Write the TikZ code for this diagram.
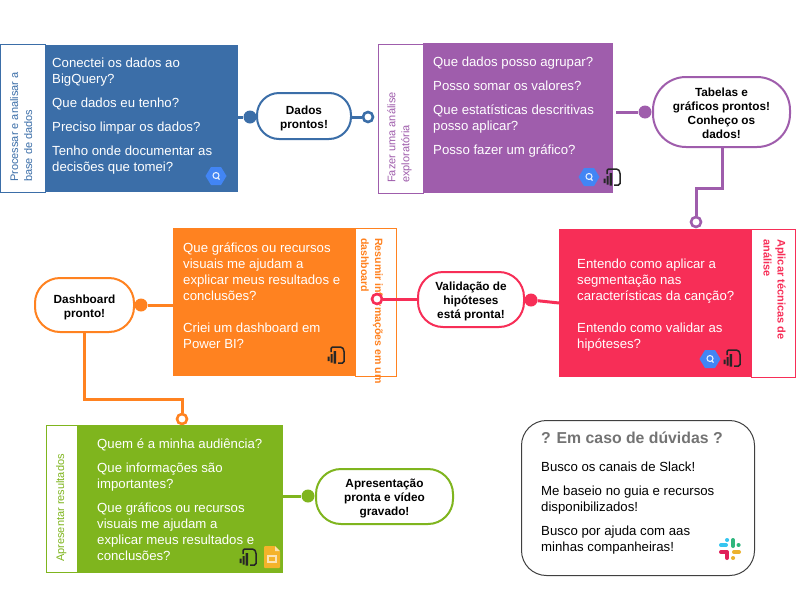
\documentclass[tikz,border=0pt]{standalone}
\usepackage{fontspec}
\setmainfont{Liberation Sans}
\definecolor{procblue}{HTML}{3B6EA8}
\definecolor{explpurple}{HTML}{9F5DAC}
\definecolor{segpink}{HTML}{F72E57}
\definecolor{dashorange}{HTML}{FF8220}
\definecolor{presgreen}{HTML}{7FB51E}
\definecolor{bqblue}{HTML}{4285F4}
\definecolor{slidesyellow}{HTML}{F4B32A}
\definecolor{slackblue}{HTML}{36C5F0}
\definecolor{slackgreen}{HTML}{2EB67D}
\definecolor{slackyellow}{HTML}{ECB22E}
\definecolor{slackpink}{HTML}{E01E5A}
\def\pilltop{\rule{0pt}{14pt}}
\def\pilllow{\rule{0pt}{12pt}}
\def\bqicon#1{\begin{scope}[shift={(#1)}]
  \fill[bqblue] (-10.5,0)--(-5,-9)--(5,-9)--(10.5,0)--(5,9)--(-5,9)--cycle;
  \draw[white!85!bqblue,line width=1.1] (0,-0.5) circle (3);
  \draw[white!85!bqblue,line width=1.1] (1.5,1.5) -- (3.5,3.5);
\end{scope}}
\def\pbicon#1{\begin{scope}[shift={(#1)}]
  \draw[black!85,line width=1.5,rounded corners=1.5] (-5,-3) -- (-5,-8) -- (6,-8) -- (8,-5) -- (8,8) -- (2,8);
  \fill[black!85] (-8.5,1.5) rectangle (-6.5,6) (-5.5,-1) rectangle (-3.5,7.5) (-2.5,-4) rectangle (0,8.5);
\end{scope}}
\def\slidesicon#1{\begin{scope}[shift={(#1)}]
  \fill[slidesyellow,rounded corners=1] (-8,-11) -- (3,-11) -- (8,-6) -- (8,11) -- (-8,11) -- cycle;
  \fill[white!60!slidesyellow] (3,-11) -- (8,-6) -- (3,-6) -- cycle;
  \draw[white!65!slidesyellow,line width=1.3] (-4,-1) rectangle (4,5);
\end{scope}}
\tikzset{
  bodybox/.style={minimum height=148,inner sep=0,anchor=north west},
  labelbox/.style={draw=#1,fill=white,line width=1,minimum height=148,inner sep=0,anchor=north west},
  bodytext/.style={white,inner sep=0,anchor=north west,align=left,font=\fontsize{13.2}{16}\selectfont},
  labeltext/.style={#1,inner sep=0,anchor=north west,align=left,font=\fontsize{11}{14}\selectfont},
  boldlabel/.style={#1,inner sep=0,anchor=north west,align=left,font=\bfseries\fontsize{10.6}{14}\selectfont},
  pill/.style={draw=#1,fill=white,line width=2,rounded corners=22,inner sep=0,align=center,font=\bfseries\fontsize{11.8}{14}\selectfont},
  link/.style={#1,line width=3},
  dotfull/.style={circle,fill=#1,inner sep=0,minimum size=13},
  dotopen/.style={circle,draw=#1,fill=white,line width=2.6,inner sep=0,minimum size=10},
  slackbar/.style={#1,line width=4,line cap=round}
}
\begin{document}
\begin{tikzpicture}[x=1pt,y=-1pt]
\useasboundingbox[fill=white] (0,0) rectangle (800,600);
% processar
\node[labelbox=procblue,minimum width=45] (proclabel) at (0,44) {};
\node[bodybox,fill=procblue,minimum width=193,minimum height=147] (procbox) at (45,45) {};
\node[labeltext=procblue,rotate=90] (proctitle) at (10,182) {Processar e analisar a\\base de dados};
\node[bodytext] (proctext) at (52,58) {Conectei os dados ao\\BigQuery?\\[8pt]Que dados eu tenho?\\[8pt]Preciso limpar os dados?\\[8pt]Tenho onde documentar as\\decisões que tomei?};
\bqicon{216,176}
\node[pill=procblue,minimum width=94,minimum height=46] (dados) at (304,116) {\pilltop Dados\\prontos!};
\node[dotfull=procblue] (dadosin) at (250,117) {};
\node[dotopen=procblue] (dadosout) at (368,117) {};
\draw[link=procblue] (procbox.east |- dadosin) -- (dadosin);
\draw[link=procblue] (dadosin) -- (dados.west |- dadosin);
\draw[link=procblue] (dados.east |- dadosout) -- (dadosout);
% explorar
\node[labelbox=explpurple,minimum width=45,minimum height=149] (expllabel) at (378,44) {};
\node[bodybox,fill=explpurple,minimum width=190,minimum height=150] (explbox) at (423,43) {};
\node[labeltext=explpurple,rotate=90] (expltitle) at (387,183) {Fazer uma análise\\exploratória};
\node[bodytext] (expltext) at (433,57) {Que dados posso agrupar?\\[8pt]Posso somar os valores?\\[8pt]Que estatísticas descritivas\\posso aplicar?\\[8pt]Posso fazer um gráfico?};
\bqicon{589,177}
\pbicon{612,177}
\node[pill=explpurple,minimum width=137,minimum height=70,rounded corners=33] (tabelas) at (721.5,112) {\rule{0pt}{11pt}Tabelas e\\gráficos prontos!\\Conheço os\\dados!};
\node[dotfull=explpurple] (tabelasin) at (645,112) {};
\node[dotopen=explpurple] (tabelasout) at (696,222) {};
\coordinate (tabelasbend) at (722,188);
\draw[link=explpurple] (explbox.east |- tabelasin) ++(3,0) -- (tabelasin);
\draw[link=explpurple] (tabelas.south -| tabelasbend) -- (tabelasbend) -| (tabelasout);
\draw[link=explpurple] (tabelasin) -- (tabelas.west |- tabelasin);
% segmentar
\node[labelbox=segpink,minimum width=44] (seglabel) at (751,229) {};
\node[bodybox,fill=segpink,minimum width=192] (segbox) at (559,229) {};
\node[boldlabel=segpink,rotate=-90,font=\bfseries\fontsize{11}{14}\selectfont] (segtitle) at (786,239) {Aplicar técnicas de\\análise};
\node[bodytext] (segtext) at (577,259) {Entendo como aplicar a\\segmentação nas\\características da canção?\\[16pt]Entendo como validar as\\hipóteses?};
\bqicon{710,359}
\pbicon{732,358}
% dashboard
\node[labelbox=dashorange,minimum width=41] (dashlabel) at (355,228) {};
\node[bodybox,fill=dashorange,minimum width=182] (dashbox) at (173,228) {};
\node[boldlabel=dashorange,rotate=-90] (dashtitle) at (383,238) {Resumir informações em um\\dashboard};
\node[bodytext] (dashtext) at (183,243) {Que gráficos ou recursos\\visuais me ajudam a\\explicar meus resultados e\\conclusões?\\[16pt]Criei um dashboard em\\Power BI?};
\pbicon{336,355}
\node[pill=segpink,minimum width=106,minimum height=55,rounded corners=25] (validacao) at (471,299.5) {\pilllow Validação de\\hipóteses\\está pronta!};
\node[dotfull=segpink] (validin) at (531,300) {};
\node[dotopen=segpink] (validout) at (377,299) {};
\draw[link=segpink] (segbox.west |- 0,303) -- (validin);
\draw[link=segpink] (validin) -- (validacao.east |- validin);
\draw[link=segpink] (validacao.west |- validout) -- (validout);
\node[pill=dashorange,minimum width=99,minimum height=54,rounded corners=25] (dashpronto) at (84.5,305) {\pilltop Dashboard\\pronto!};
\node[dotfull=dashorange] (dashin) at (141,305) {};
\node[dotopen=dashorange] (dashout) at (182,419) {};
\coordinate (dashbend) at (84,399);
\draw[link=dashorange] (dashbox.west |- dashin) -- (dashin);
\draw[link=dashorange] (dashpronto.south -| dashbend) -- (dashbend) -| (dashout);
% apresentar
\node[labelbox=presgreen,minimum width=31,minimum height=147] (preslabel) at (46,425) {};
\node[bodybox,fill=presgreen,minimum width=206] (presbox) at (77,425) {};
\node[labeltext=presgreen,rotate=90] (prestitle) at (56,562) {Apresentar resultados};
\node[bodytext] (prestext) at (97,439) {Quem é a minha audiência?\\[8pt]Que informações são\\importantes?\\[8pt]Que gráficos ou recursos\\visuais me ajudam a\\explicar meus resultados e\\conclusões?};
\pbicon{248,557}
\slidesicon{272,557}
\node[pill=presgreen,minimum width=137,minimum height=55,rounded corners=25] (apresentacao) at (384.5,496.5) {\pilllow Apresentação\\pronta e vídeo\\gravado!};
\node[dotfull=presgreen] (apresin) at (308,496) {};
\draw[link=presgreen] (presbox.east |- apresin) -- (apresin);
\draw[link=presgreen] (apresin) -- (apresentacao.west |- apresin);
% duvidas
\node[draw=black!75,fill=white,line width=1,rounded corners=25,inner sep=0,minimum width=233,minimum height=155,anchor=north west] (duvidasbox) at (521,420) {};
\node[black!55,inner sep=0,anchor=north west,font=\bfseries\fontsize{15.8}{18}\selectfont] (duvidastitle) at (541,432) {? Em caso de dúvidas ?};
\node[bodytext,black] (duvidastext) at (541,462) {Busco os canais de Slack!\\[8pt]Me baseio no guia e recursos\\disponibilizados!\\[8pt]Busco por ajuda com aas\\minhas companheiras!};
\draw[slackbar=slackblue] (721,545) -- (726,545);
\draw[slackbar=slackblue] (727,540) -- (727.1,540);
\draw[slackbar=slackgreen] (733,540) -- (733,546);
\draw[slackbar=slackgreen] (738.5,545) -- (738.6,545);
\draw[slackbar=slackyellow] (734,552) -- (739,552);
\draw[slackbar=slackyellow] (733,558) -- (733.1,558);
\draw[slackbar=slackpink] (727,552) -- (727,558);
\draw[slackbar=slackpink] (721,552) -- (726,552);
\end{tikzpicture}
\end{document}
